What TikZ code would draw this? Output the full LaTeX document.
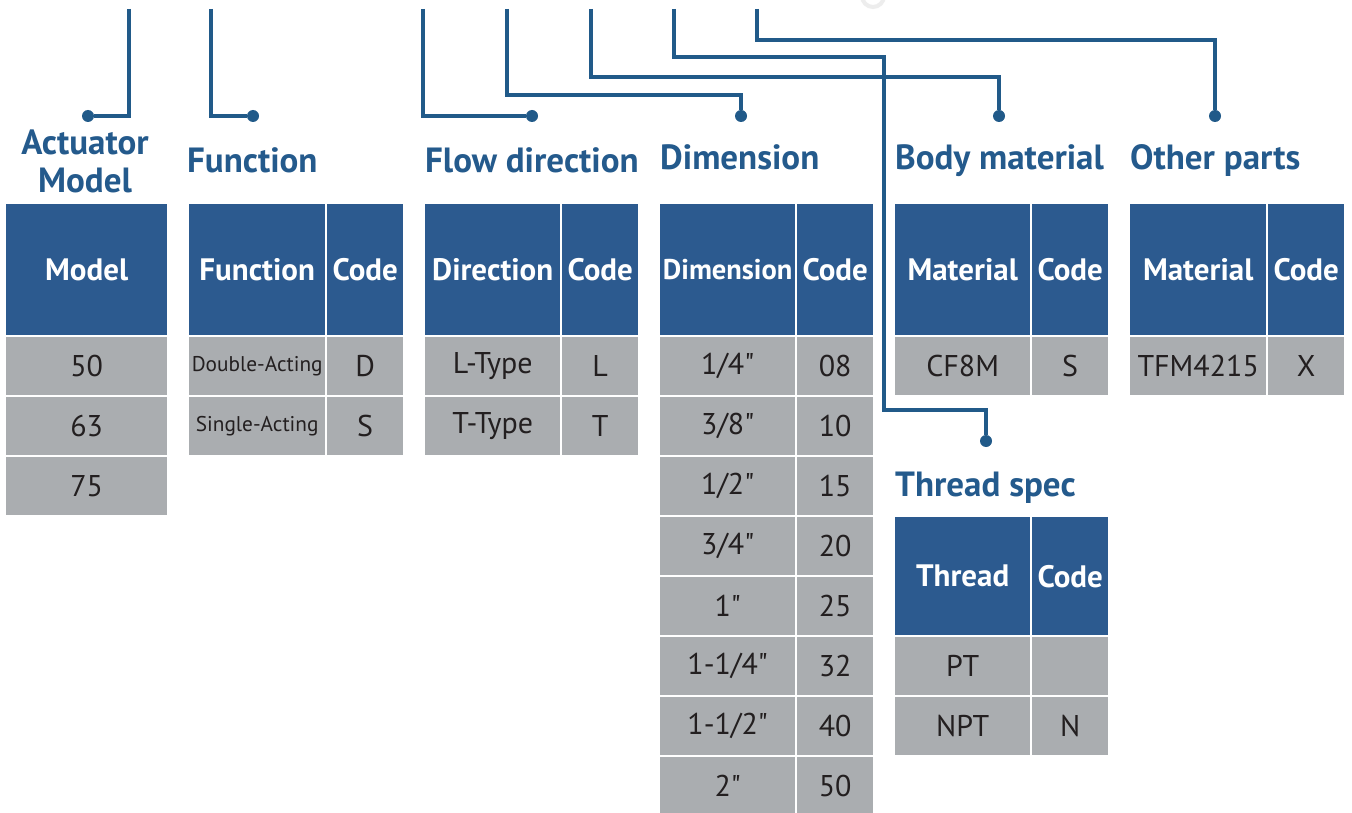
\documentclass[tikz,border=0pt]{standalone}
\usepackage{fontspec}
\setmainfont{PT Sans}
\definecolor{hdrblue}{HTML}{2C5A8F}
\definecolor{cellgray}{HTML}{AAADB0}
\definecolor{celltext}{HTML}{231F20}
\definecolor{titleblue}{HTML}{245A8C}
\definecolor{lineblue}{HTML}{215A89}
\newcommand\mycell[7][cellg]{\node[#1,minimum width={(#5)-(#3)},minimum height={(#6)-(#4)}] (#2) at (#3,#4) {#7};}
\newcommand\inch{\textquotedbl}
\tikzset{
  hdr/.style={fill=hdrblue,text=white,inner sep=0pt,anchor=north west,font=\bfseries\fontsize{31}{34}\selectfont},
  cellg/.style={fill=cellgray,text=celltext,inner sep=0pt,anchor=north west,font=\fontsize{30}{32}\selectfont},
  small/.style={font=\fontsize{21.3}{24}\selectfont},
  ttl/.style={text=titleblue,inner sep=0pt,font=\bfseries\fontsize{35}{38}\selectfont},
  conn/.style={draw=lineblue,line width=3.5pt},
  dotn/.style={circle,fill=lineblue,inner sep=0pt,minimum size=12pt},
}
\begin{document}
\begin{tikzpicture}[x=1pt,y=-1pt]
\useasboundingbox[fill=white] (0,0) rectangle (1352,813);
\draw[black!7,line width=4pt] (873,-4) circle (11);
% connectors
\coordinate (t1) at (129,9);
\coordinate (t2) at (211,9);
\coordinate (t3) at (423,9);
\coordinate (t4) at (507,9);
\coordinate (t5) at (591,9);
\coordinate (t6) at (674,9);
\coordinate (t7) at (757,9);
\coordinate (k4) at (741,95);
\coordinate (k5) at (999,77);
\coordinate (k6a) at (884,57);
\coordinate (k6b) at (986,410);
\coordinate (k7) at (1215,40);
\node[dotn] (d1) at (88,116) {};
\node[dotn] (d2) at (253,116) {};
\node[dotn] (d3) at (532,116) {};
\node[dotn] (d4) at (741,116) {};
\node[dotn] (d5) at (999,116) {};
\node[dotn] (d6) at (986,441) {};
\node[dotn] (d7) at (1215,116) {};
\draw[conn] (t1) |- (d1);
\draw[conn] (t2) |- (d2);
\draw[conn] (t3) |- (d3);
\draw[conn] (t4) |- (k4) -- (d4);
\draw[conn] (t5) |- (k5) -- (d5);
\draw[conn] (t6) |- (k6a) |- (k6b) -- (d6);
\draw[conn] (t7) |- (k7) -- (d7);
% titles
\node[ttl,align=center,anchor=base] (tA) at (85,193) {Actuator\\Model};
\node[ttl,anchor=base west] (tF) at (187,173) {Function};
\node[ttl,anchor=base west] (tD) at (425,173) {Flow direction};
\node[ttl,anchor=base west] (tS) at (660,170) {Dimension};
\node[ttl,anchor=base west] (tB) at (895,170) {Body material};
\node[ttl,anchor=base west] (tO) at (1130,170) {Other parts};
\node[ttl,anchor=base west] (tT) at (895,496) {Thread spec};
% Model table
\mycell[hdr]{mh}{6}{204}{167}{335}{Model}
\mycell{m0}{6}{337}{167}{395}{50}
\mycell{m1}{6}{397}{167}{455}{63}
\mycell{m2}{6}{457}{167}{515}{75}
% Function table
\mycell[hdr]{fh1}{189}{204}{325}{335}{Function}
\mycell[hdr]{fh2}{327}{204}{403}{335}{Code}
\mycell[cellg,small]{f01}{189}{337}{325}{395}{Double-Acting}
\mycell{f02}{327}{337}{403}{395}{D}
\mycell[cellg,small]{f11}{189}{397}{325}{455}{Single-Acting}
\mycell{f12}{327}{397}{403}{455}{S}
% Flow direction table
\mycell[hdr]{lh1}{425}{204}{560}{335}{Direction}
\mycell[hdr]{lh2}{562}{204}{638}{335}{Code}
\mycell{l01}{425}{337}{560}{395}{L-Type}
\mycell{l02}{562}{337}{638}{395}{L}
\mycell{l11}{425}{397}{560}{455}{T-Type}
\mycell{l12}{562}{397}{638}{455}{T}
% Dimension table
\mycell[hdr,font=\bfseries\fontsize{28.5}{30}\selectfont]{sh1}{660}{204}{795}{335}{Dimension}
\mycell[hdr]{sh2}{797}{204}{873}{335}{Code}
\mycell{s01}{660}{337}{795}{395}{1/4\inch}
\mycell{s02}{797}{337}{873}{395}{08}
\mycell{s11}{660}{397}{795}{455}{3/8\inch}
\mycell{s12}{797}{397}{873}{455}{10}
\mycell{s21}{660}{457}{795}{515}{1/2\inch}
\mycell{s22}{797}{457}{873}{515}{15}
\mycell{s31}{660}{517}{795}{575}{3/4\inch}
\mycell{s32}{797}{517}{873}{575}{20}
\mycell{s41}{660}{577}{795}{635}{1\inch}
\mycell{s42}{797}{577}{873}{635}{25}
\mycell{s51}{660}{637}{795}{695}{1-1/4\inch}
\mycell{s52}{797}{637}{873}{695}{32}
\mycell{s61}{660}{697}{795}{755}{1-1/2\inch}
\mycell{s62}{797}{697}{873}{755}{40}
\mycell{s71}{660}{757}{795}{815}{2\inch}
\mycell{s72}{797}{757}{873}{815}{50}
% Body material table
\mycell[hdr]{bh1}{895}{204}{1030}{335}{Material}
\mycell[hdr]{bh2}{1032}{204}{1108}{335}{Code}
\mycell{b01}{895}{337}{1030}{395}{CF8M}
\mycell{b02}{1032}{337}{1108}{395}{S}
% Other parts table
\mycell[hdr]{oh1}{1130}{204}{1266}{335}{Material}
\mycell[hdr]{oh2}{1268}{204}{1344}{335}{Code}
\mycell{o01}{1130}{337}{1266}{395}{TFM4215}
\mycell{o02}{1268}{337}{1344}{395}{X}
% Thread spec table
\mycell[hdr]{th1}{895}{517}{1030}{635}{Thread}
\mycell[hdr]{th2}{1032}{517}{1108}{635}{Code}
\mycell{t01}{895}{637}{1030}{695}{PT}
\mycell{t02}{1032}{637}{1108}{695}{}
\mycell{t11}{895}{697}{1030}{755}{NPT}
\mycell{t12}{1032}{697}{1108}{755}{N}
\end{tikzpicture}
\end{document}
